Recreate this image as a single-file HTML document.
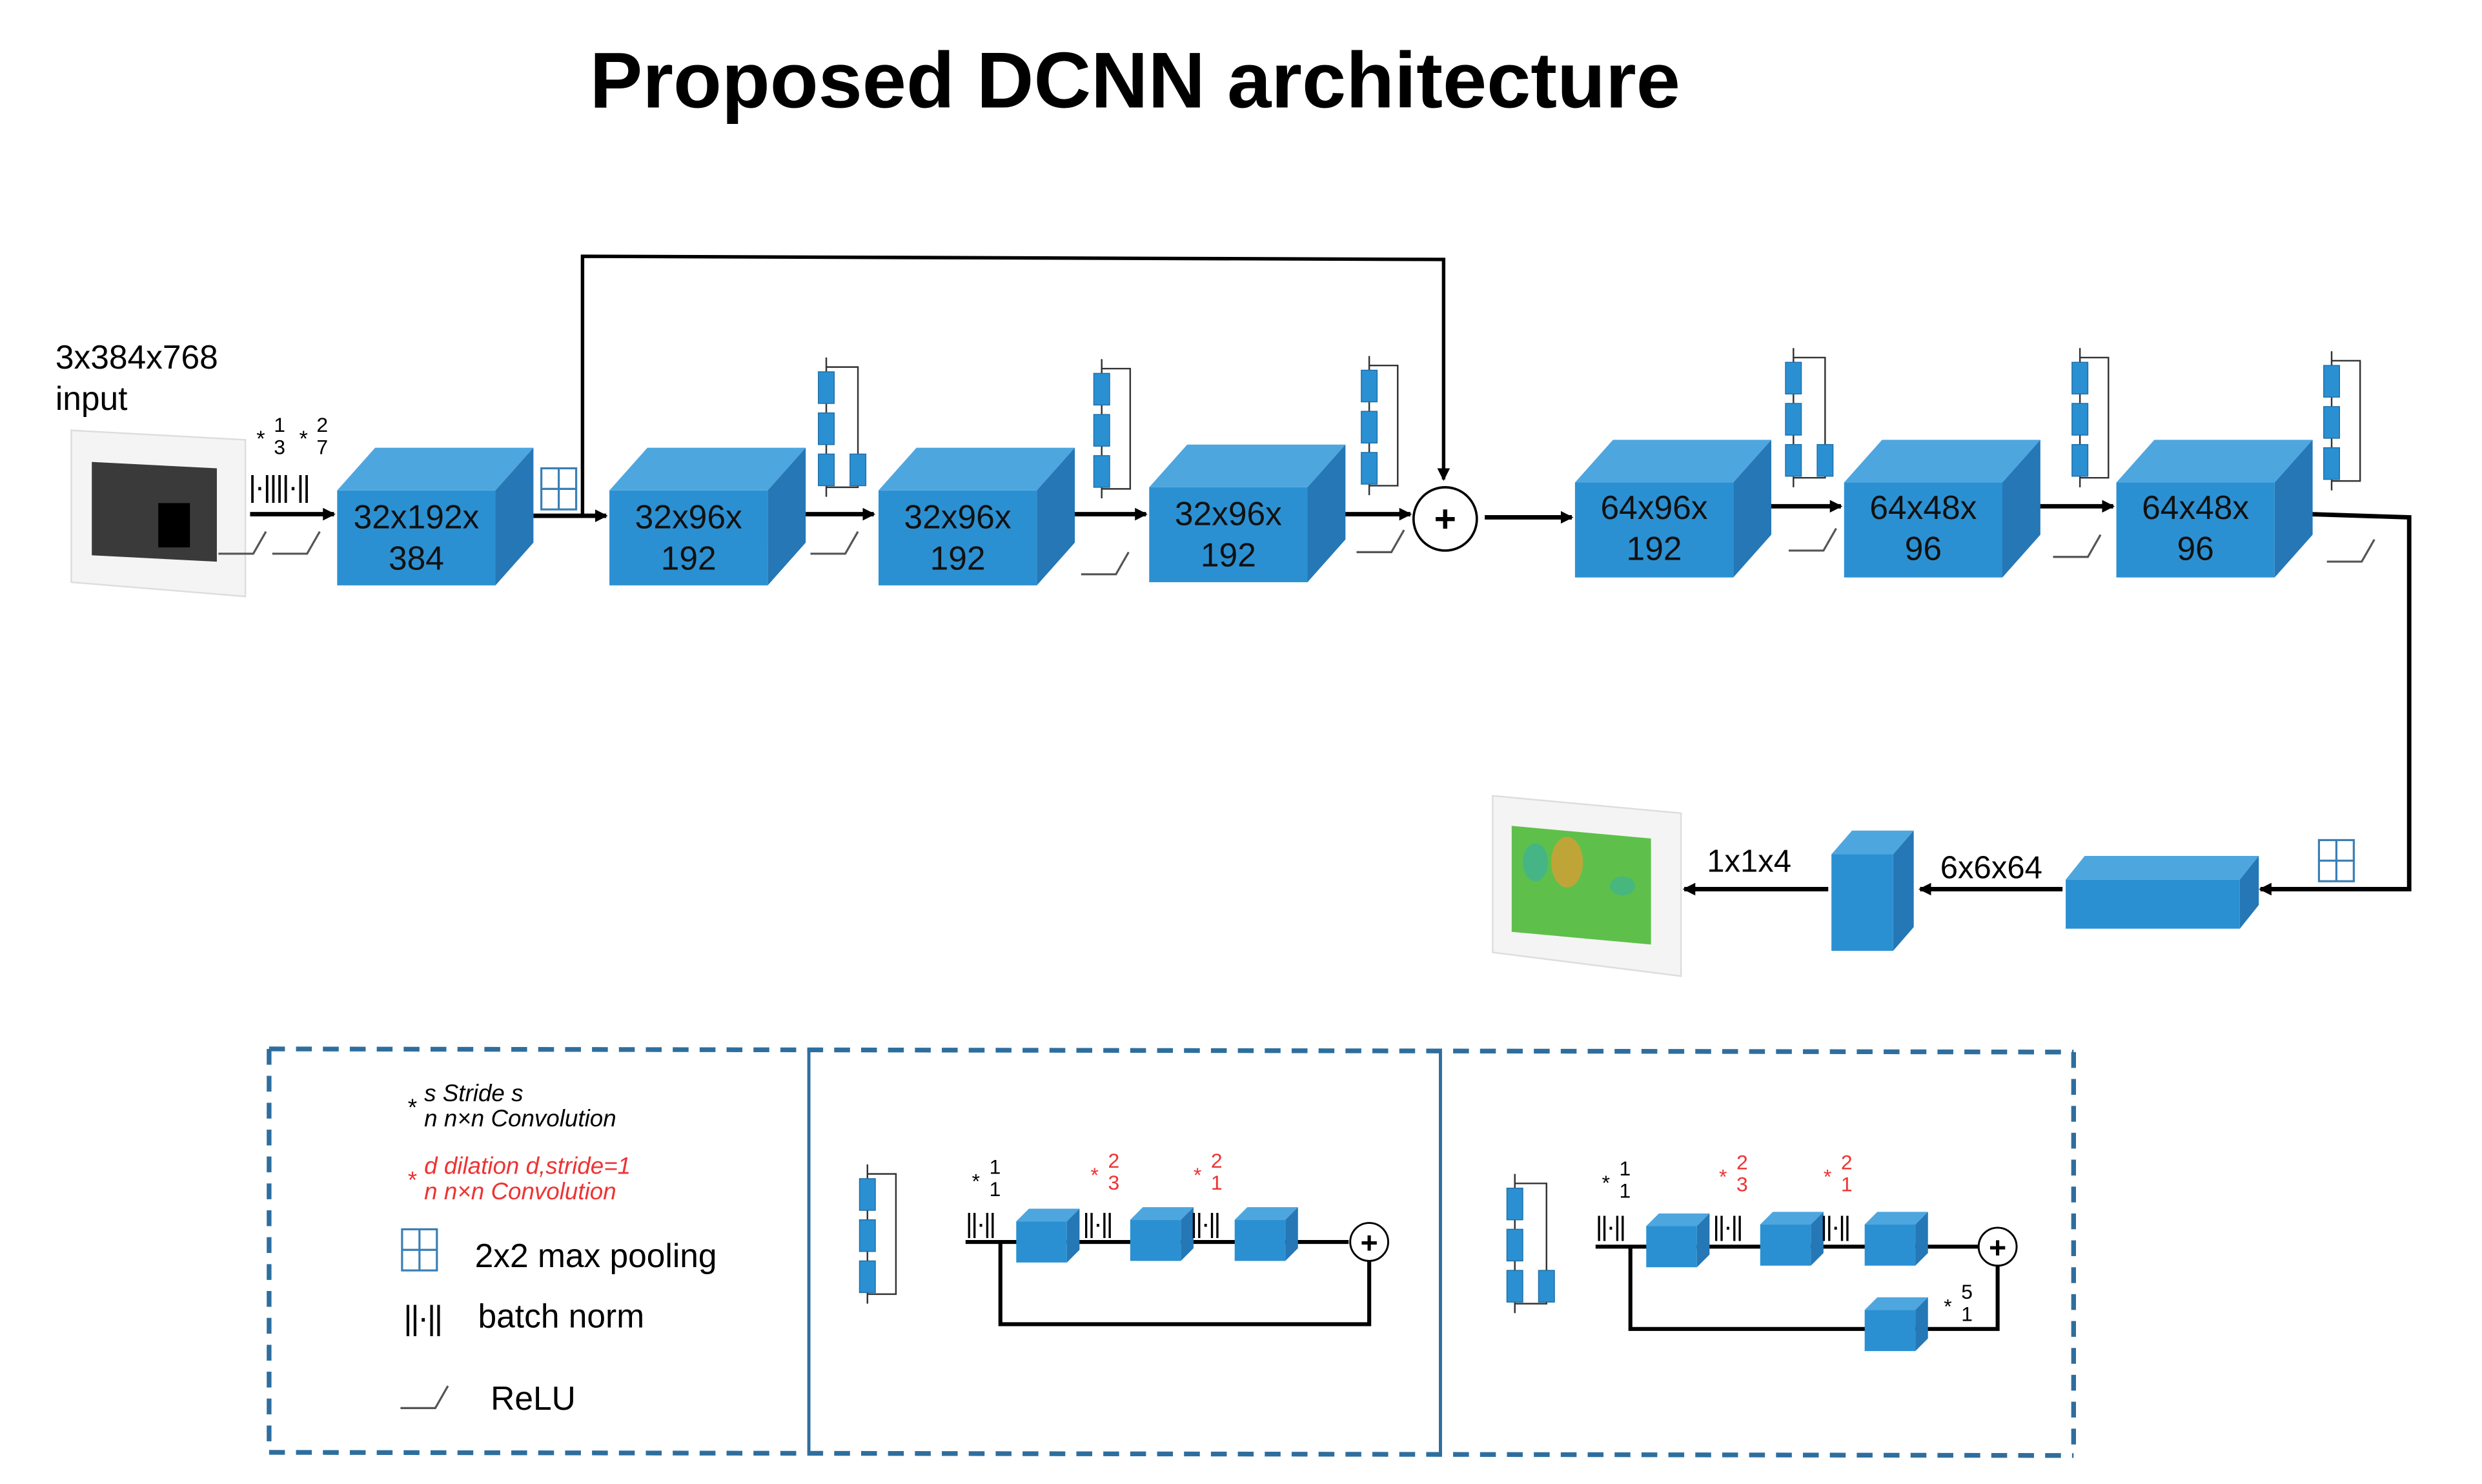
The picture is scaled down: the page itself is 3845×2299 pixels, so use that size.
<!DOCTYPE html>
<html><head><meta charset="utf-8"><style>
html,body{margin:0;padding:0;background:#fff;width:3845px;height:2299px;overflow:hidden}
svg{display:block}
text{font-family:"Liberation Sans",sans-serif}
</style></head><body>
<svg width="3845" height="2299" viewBox="0 0 1568 938" preserveAspectRatio="none" xmlns="http://www.w3.org/2000/svg">
<defs>
<marker id="ah" markerWidth="8" markerHeight="8" refX="7" refY="4" orient="auto" markerUnits="userSpaceOnUse"><path d="M0,0 L8,4 L0,8 z" fill="#000"/></marker>
<g id="cube">
<polygon points="0,0 24,-27 124,-27 100,0" fill="#4ea6df"/>
<polygon points="100,0 124,-27 124,33 100,60" fill="#2577b6"/>
<rect x="0" y="0" width="100" height="60" fill="#2b90d2"/>
</g>
<g id="pool"><rect x="0" y="0" width="22" height="26" fill="#fff" stroke="#3a7fb5" stroke-width="1.3"/><line x1="11" y1="0" x2="11" y2="26" stroke="#3a7fb5" stroke-width="1.3"/><line x1="0" y1="13" x2="22" y2="13" stroke="#3a7fb5" stroke-width="1.3"/></g>
<g id="relu"><polyline points="0,0 22,0 30,-14" fill="none" stroke="#555" stroke-width="1.3"/></g>
<g id="res3"><polyline points="0,-6 0,82" stroke="#333" stroke-width="1" fill="none"/><polyline points="0,0 18,0 18,76 0,76" stroke="#333" stroke-width="1" fill="none"/>
<rect x="-5" y="3" width="10" height="20" fill="#2b90d2" stroke="#1f6fa8" stroke-width=".6"/><rect x="-5" y="29" width="10" height="20" fill="#2b90d2" stroke="#1f6fa8" stroke-width=".6"/><rect x="-5" y="55" width="10" height="20" fill="#2b90d2" stroke="#1f6fa8" stroke-width=".6"/></g>
<g id="res4"><polyline points="0,-6 0,82" stroke="#333" stroke-width="1" fill="none"/><polyline points="0,0 20,0 20,76 0,76" stroke="#333" stroke-width="1" fill="none"/>
<rect x="-5" y="3" width="10" height="20" fill="#2b90d2" stroke="#1f6fa8" stroke-width=".6"/><rect x="-5" y="29" width="10" height="20" fill="#2b90d2" stroke="#1f6fa8" stroke-width=".6"/><rect x="-5" y="55" width="10" height="20" fill="#2b90d2" stroke="#1f6fa8" stroke-width=".6"/><rect x="15" y="55" width="10" height="20" fill="#2b90d2" stroke="#1f6fa8" stroke-width=".6"/></g>
<g id="sc"><polygon points="0,0 8,-8 40,-8 32,0" fill="#4ea6df"/><polygon points="32,0 40,-8 40,18 32,26" fill="#2577b6"/><rect x="0" y="0" width="32" height="26" fill="#2b90d2"/></g>
</defs>

<text x="717" y="68" text-anchor="middle" font-size="50" font-weight="bold">Proposed DCNN architecture</text>

<!-- input image -->
<polygon points="45,272 155,278 155,377 45,368" fill="#f4f4f4" stroke="#ddd"/>
<polygon points="58,292 137,296 137,355 58,351" fill="#3a3a3a"/>
<rect x="100" y="318" width="20" height="28" fill="#000"/>
<text x="35" y="233" font-size="21">3x384x768</text>
<text x="35" y="259" font-size="21">input</text>
<text x="162" y="282" font-size="14">*</text><text x="173" y="273" font-size="13">1</text><text x="173" y="287" font-size="13">3</text>
<text x="189" y="282" font-size="14">*</text><text x="200" y="273" font-size="13">2</text><text x="200" y="287" font-size="13">7</text>
<text x="157" y="314" font-size="19" letter-spacing="-1">|·||||·||</text>
<use href="#relu" x="138" y="350"/><use href="#relu" x="172" y="350"/>

<!-- skip -->
<polyline points="368,325 368,162 912,164 912,303" fill="none" stroke="#000" stroke-width="2.2" marker-end="url(#ah)"/>

<g stroke="#000" stroke-width="2.8" marker-end="url(#ah)">
<line x1="158" y1="325" x2="211" y2="325"/>
<line x1="337" y1="326" x2="383" y2="326"/>
<line x1="497" y1="325" x2="552" y2="325"/>
<line x1="670" y1="325" x2="724" y2="325"/>
<line x1="838" y1="325" x2="891" y2="325"/>
<line x1="938" y1="327" x2="993" y2="327"/>
<line x1="1107" y1="320" x2="1163" y2="320"/>
<line x1="1278" y1="320" x2="1335" y2="320"/>
</g>
<polyline points="1460,325 1522,327 1522,562 1428,562" fill="none" stroke="#000" stroke-width="2.8" marker-end="url(#ah)"/>
<line x1="1303" y1="562" x2="1213" y2="562" stroke="#000" stroke-width="2.8" marker-end="url(#ah)"/>
<line x1="1155" y1="562" x2="1064" y2="562" stroke="#000" stroke-width="2.8" marker-end="url(#ah)"/>

<circle cx="913" cy="328" r="20" fill="#fff" stroke="#000" stroke-width="1.5"/>
<text x="913" y="336" font-size="24" text-anchor="middle" font-weight="bold">+</text>

<use href="#cube" x="213" y="310"/>
<use href="#cube" x="385" y="310"/>
<use href="#cube" x="555" y="310"/>
<use href="#cube" x="726" y="308"/>
<use href="#cube" x="995" y="305"/>
<use href="#cube" x="1165" y="305"/>
<use href="#cube" x="1337" y="305"/>
<g font-size="21" text-anchor="middle" fill="#111">
<text x="263" y="334">32x192x</text><text x="263" y="360">384</text>
<text x="435" y="334">32x96x</text><text x="435" y="360">192</text>
<text x="605" y="334">32x96x</text><text x="605" y="360">192</text>
<text x="776" y="332">32x96x</text><text x="776" y="358">192</text>
<text x="1045" y="328">64x96x</text><text x="1045" y="354">192</text>
<text x="1215" y="328">64x48x</text><text x="1215" y="354">96</text>
<text x="1387" y="328">64x48x</text><text x="1387" y="354">96</text>
</g>
<use href="#pool" x="342" y="296"/>
<use href="#pool" x="1465" y="531"/>
<use href="#res4" x="522" y="232"/>
<use href="#res3" x="696" y="233"/>
<use href="#res3" x="865" y="231"/>
<use href="#res4" x="1133" y="226"/>
<use href="#res3" x="1314" y="226"/>
<use href="#res3" x="1473" y="228"/>
<use href="#relu" x="512" y="350"/><use href="#relu" x="683" y="363"/><use href="#relu" x="857" y="349"/>
<use href="#relu" x="1130" y="348"/><use href="#relu" x="1297" y="352"/><use href="#relu" x="1470" y="355"/>

<!-- bottom path -->
<polygon points="1305,556 1317,541 1427,541 1415,556" fill="#4ea6df"/>
<polygon points="1415,556 1427,541 1427,572 1415,587" fill="#2577b6"/>
<rect x="1305" y="556" width="110" height="31" fill="#2b90d2"/>
<polygon points="1157,540 1170,525 1209,525 1196,540" fill="#4ea6df"/>
<polygon points="1196,540 1209,525 1209,586 1196,601" fill="#2577b6"/>
<rect x="1157" y="540" width="39" height="61" fill="#2b90d2"/>
<text x="1258" y="555" font-size="20" text-anchor="middle">6x6x64</text>
<text x="1105" y="551" font-size="20" text-anchor="middle">1x1x4</text>
<polygon points="943,503 1062,514 1062,617 943,602" fill="#f4f4f4" stroke="#ddd"/>
<polygon points="955,522 1043,530 1043,597 955,589" fill="#5ec04a"/>
<ellipse cx="990" cy="545" rx="10" ry="16" fill="#e89a30" opacity=".7"/>
<ellipse cx="970" cy="545" rx="8" ry="12" fill="#3ab0a0" opacity=".7"/>
<ellipse cx="1025" cy="560" rx="8" ry="6" fill="#3ab0a0" opacity=".6"/>

<!-- legend -->
<g fill="none" stroke="#2e6e9e" stroke-width="3" stroke-dasharray="10,7">
<line x1="170" y1="663" x2="1310" y2="665"/>
<line x1="170" y1="918" x2="1310" y2="920"/>
<line x1="170" y1="663" x2="170" y2="918"/>
<line x1="1310" y1="665" x2="1310" y2="920"/>
</g>
<line x1="511" y1="663" x2="511" y2="918" stroke="#2e6e9e" stroke-width="2"/>
<line x1="910" y1="665" x2="910" y2="920" stroke="#2e6e9e" stroke-width="2"/>

<g font-family="Liberation Serif,serif" font-style="italic" font-size="15">
<text x="257" y="705">*</text><text x="268" y="696">s  Stride s</text><text x="268" y="712">n  n×n Convolution</text>
<g fill="#e33"><text x="257" y="751">*</text><text x="268" y="742">d  dilation d,stride=1</text><text x="268" y="758">n  n×n Convolution</text></g>
</g>
<use href="#pool" x="254" y="777"/>
<text x="300" y="801" font-size="21">2x2 max pooling</text>
<text x="255" y="840" font-size="21" letter-spacing="-1">||·||</text>
<text x="302" y="839" font-size="21">batch norm</text>
<use href="#relu" x="253" y="890"/>
<text x="310" y="891" font-size="21">ReLU</text>

<!-- middle block -->
<use href="#res3" x="548" y="742"/>
<g stroke="#000" stroke-width="2.5" fill="none">
<line x1="610" y1="785" x2="852" y2="785"/>
<polyline points="632,785 632,837 865,837 865,797"/>
</g>
<circle cx="865" cy="785" r="12" fill="#fff" stroke="#000" stroke-width="1.2"/>
<text x="865" y="792" font-size="19" text-anchor="middle" font-weight="bold">+</text>
<use href="#sc" x="642" y="772"/><use href="#sc" x="714" y="771"/><use href="#sc" x="780" y="771"/>
<g font-size="17" letter-spacing="-1"><text x="610" y="779">||·||</text><text x="684" y="779">||·||</text><text x="752" y="779">||·||</text></g>
<g font-size="13"><text x="614" y="751">*</text><text x="625" y="742">1</text><text x="625" y="756">1</text>
<g fill="#e33"><text x="689" y="747">*</text><text x="700" y="738">2</text><text x="700" y="752">3</text>
<text x="754" y="747">*</text><text x="765" y="738">2</text><text x="765" y="752">1</text></g></g>

<!-- right block -->
<use href="#res4" x="957" y="748"/>
<g stroke="#000" stroke-width="2.5" fill="none">
<line x1="1008" y1="788" x2="1250" y2="788"/>
<polyline points="1030,788 1030,840 1262,840 1262,800"/>
</g>
<circle cx="1262" cy="788" r="12" fill="#fff" stroke="#000" stroke-width="1.2"/>
<text x="1262" y="795" font-size="19" text-anchor="middle" font-weight="bold">+</text>
<use href="#sc" x="1040" y="775"/><use href="#sc" x="1112" y="774"/><use href="#sc" x="1178" y="774"/>
<use href="#sc" x="1178" y="828"/>
<g font-size="17" letter-spacing="-1"><text x="1008" y="781">||·||</text><text x="1082" y="781">||·||</text><text x="1150" y="781">||·||</text></g>
<g font-size="13"><text x="1012" y="752">*</text><text x="1023" y="743">1</text><text x="1023" y="757">1</text>
<g fill="#e33"><text x="1086" y="748">*</text><text x="1097" y="739">2</text><text x="1097" y="753">3</text>
<text x="1152" y="748">*</text><text x="1163" y="739">2</text><text x="1163" y="753">1</text></g>
<text x="1228" y="830">*</text><text x="1239" y="821">5</text><text x="1239" y="835">1</text></g>
</svg>
</body></html>
